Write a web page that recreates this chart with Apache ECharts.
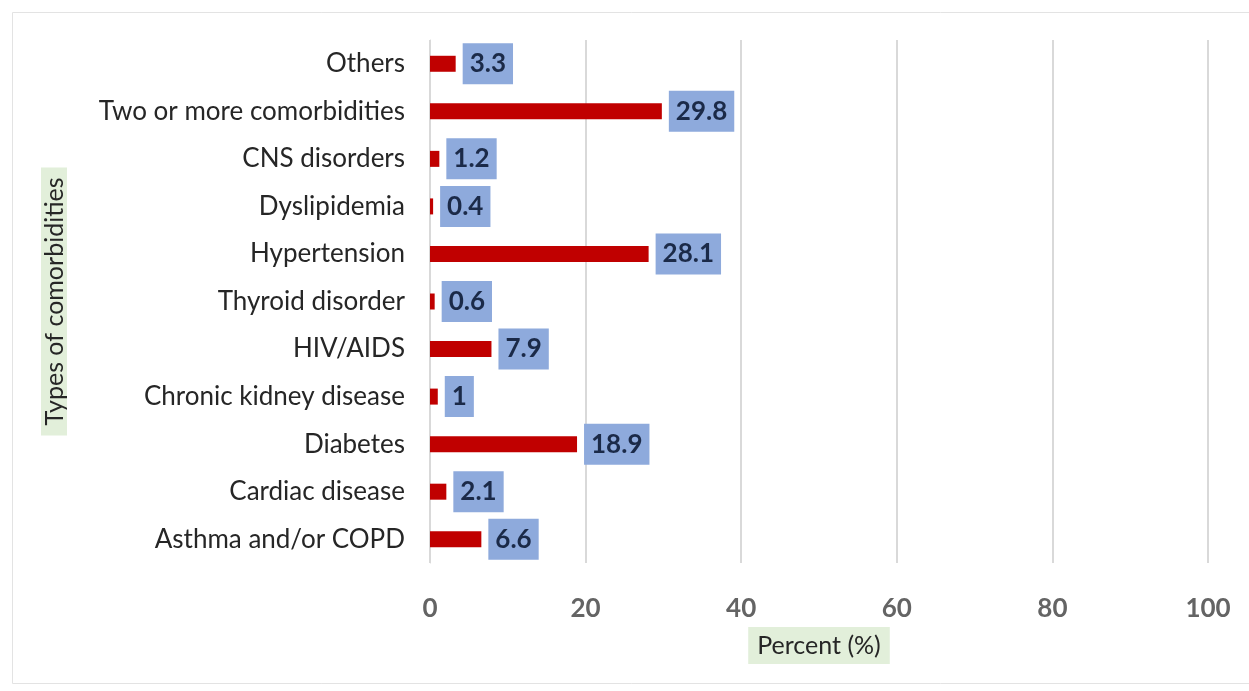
<!DOCTYPE html>
<html>
<head>
<meta charset="utf-8">
<script src="https://cdn.jsdelivr.net/npm/echarts@6/dist/echarts.min.js"></script>
<style>
  html, body { margin: 0; padding: 0; background: #ffffff; }
  #chart { width: 1249px; height: 691px; }
</style>
</head>
<body>
<div id="chart"></div>
<script>
// Comorbidity types, listed bottom to top
const categories = [
  'Asthma and/or COPD',
  'Cardiac disease',
  'Diabetes',
  'Chronic kidney disease',
  'HIV/AIDS',
  'Thyroid disorder',
  'Hypertension',
  'Dyslipidemia',
  'CNS disorders',
  'Two or more comorbidities',
  'Others'
];
// Share of patients with each comorbidity (%)
const percentValues = [6.6, 2.1, 18.9, 1, 7.9, 0.6, 28.1, 0.4, 1.2, 29.8, 3.3];
const xTicks = [0, 20, 40, 60, 80, 100];

const FONT = '"Lato", "Liberation Sans", sans-serif';

const chart = echarts.init(document.getElementById('chart'), null, { renderer: 'canvas' });

chart.setOption({
  backgroundColor: '#ffffff',
  animation: false,
  graphic: [{
    type: 'rect',
    shape: { x: 12.5, y: 12.5, width: 1260, height: 671 },
    style: { fill: 'none', stroke: '#e3e3e3', lineWidth: 1 },
    silent: true,
    z: -10
  }],
  grid: { left: 430, right: 41, top: 40, bottom: 128, containLabel: false },
  xAxis: {
    type: 'value',
    min: xTicks[0],
    max: xTicks[xTicks.length - 1],
    interval: xTicks[1] - xTicks[0],
    name: 'Percent (%)',
    nameLocation: 'middle',
    nameGap: 64,
    nameTextStyle: {
      fontFamily: FONT, fontSize: 25, color: '#262626',
      backgroundColor: '#e2efda', padding: [6, 9, 6, 9]
    },
    axisLine: { show: false },
    axisTick: { show: false },
    axisLabel: { fontFamily: FONT, fontSize: 26, fontWeight: 'bold', color: '#646464', margin: 33 },
    splitLine: { show: true, lineStyle: { color: '#d9d9d9', width: 2 } }
  },
  yAxis: {
    type: 'category',
    data: categories,
    name: 'Types of comorbidities',
    nameLocation: 'middle',
    nameRotate: 90,
    nameGap: 363,
    nameTextStyle: {
      fontFamily: FONT, fontSize: 25, color: '#262626',
      backgroundColor: '#e2efda', padding: [1, 10, 0, 10]
    },
    axisLine: { show: true, lineStyle: { color: '#d9d9d9', width: 1 } },
    axisTick: { show: false },
    axisLabel: { fontFamily: FONT, fontSize: 26, color: '#262626', margin: 25 }
  },
  series: [{
    type: 'bar',
    data: percentValues,
    barWidth: 16,
    itemStyle: { color: '#c00000' },
    label: {
      show: true,
      position: 'right',
      distance: 7,
      fontFamily: FONT,
      fontSize: 26,
      fontWeight: 'bold',
      color: '#1b2a48',
      backgroundColor: '#8eaadc',
      padding: [8, 7, 7, 7]
    }
  }]
});
</script>
</body>
</html>
